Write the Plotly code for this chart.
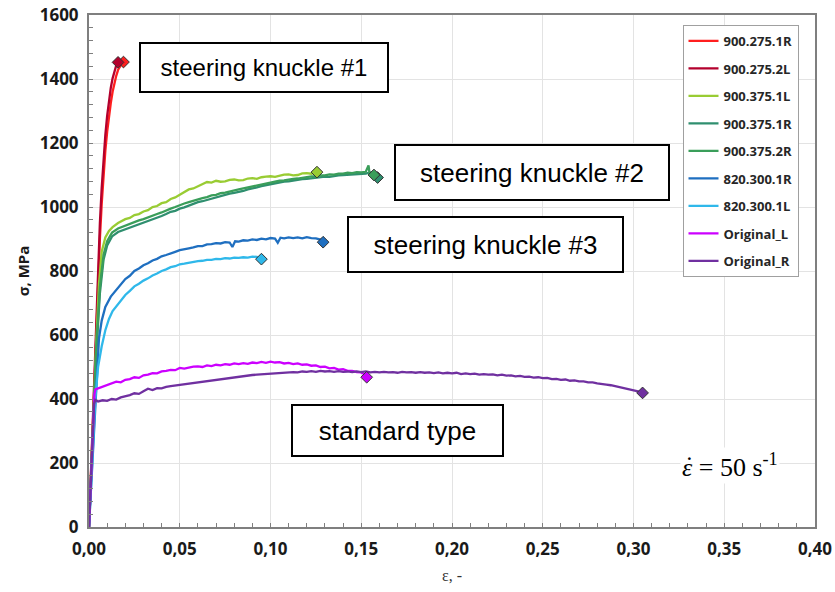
import plotly.graph_objects as go

# ---------------- data ----------------
series_names = ["900.275.1R", "900.275.2L", "900.375.1L", "900.375.1R", "900.375.2R",
                "820.300.1R", "820.300.1L", "Original_L", "Original_R"]
series_colors = ["#ff1f1f", "#b3002d", "#99cc33", "#2f8f6f", "#3a9e5a",
                 "#1f6fc0", "#2fb8ea", "#cc00ff", "#7030a0"]

r_900_275_1R = [(0, 0), (0.001, 150), (0.002, 310), (0.003, 470), (0.004, 640), (0.005, 790),
                (0.006, 900), (0.007, 1010), (0.008, 1100), (0.009, 1175), (0.010, 1235),
                (0.011, 1285), (0.012, 1325), (0.013, 1360), (0.014, 1388), (0.015, 1410),
                (0.016, 1428), (0.017, 1440), (0.018, 1448), (0.019, 1453)]

r_900_275_2L = [(0, 0), (0.001, 155), (0.002, 320), (0.003, 490), (0.004, 670), (0.005, 830),
                (0.006, 950), (0.007, 1060), (0.008, 1150), (0.009, 1225), (0.010, 1285),
                (0.011, 1335), (0.012, 1372), (0.013, 1402), (0.014, 1425), (0.015, 1442),
                (0.016, 1452)]

r_900_375_1L = [(0, 0), (0.002, 300), (0.004, 580), (0.0055, 760), (0.007, 860), (0.009, 905),
                (0.011, 925), (0.013, 937), (0.016, 950), (0.02, 962), (0.0225, 966), (0.025, 975),
                (0.0275, 978), (0.03, 986), (0.0325, 990), (0.035, 1000), (0.0375, 1003),
                (0.04, 1012), (0.0425, 1015), (0.045, 1025), (0.0475, 1030), (0.05, 1038),
                (0.0525, 1046), (0.055, 1055), (0.0575, 1058), (0.06, 1065), (0.0625, 1072),
                (0.065, 1078), (0.0675, 1076), (0.07, 1082), (0.0725, 1079), (0.075, 1080),
                (0.0775, 1085), (0.08, 1086), (0.0825, 1083), (0.085, 1084), (0.0875, 1089),
                (0.09, 1090), (0.0925, 1088), (0.095, 1093), (0.0975, 1095), (0.1, 1096),
                (0.1025, 1094), (0.105, 1098), (0.1075, 1101), (0.11, 1102), (0.1125, 1099),
                (0.115, 1100), (0.1175, 1105), (0.12, 1106), (0.1225, 1104), (0.1256, 1109)]

r_900_375_1R = [(0, 0), (0.002, 290), (0.004, 540), (0.006, 730), (0.008, 835), (0.010, 880),
                (0.0127, 908), (0.016, 922), (0.02, 930), (0.0225, 936), (0.025, 942),
                (0.0275, 945), (0.03, 952), (0.0325, 955), (0.035, 960), (0.0375, 966),
                (0.04, 972), (0.0425, 978), (0.045, 985), (0.0475, 988), (0.05, 995),
                (0.0525, 999), (0.055, 1005), (0.0575, 1009), (0.06, 1015), (0.0625, 1018),
                (0.065, 1022), (0.0675, 1027), (0.07, 1030), (0.0725, 1035), (0.075, 1037),
                (0.0775, 1042), (0.08, 1044), (0.0825, 1046), (0.085, 1050), (0.0875, 1055),
                (0.09, 1057), (0.0925, 1061), (0.095, 1065), (0.0975, 1068), (0.1, 1072),
                (0.1025, 1073), (0.105, 1076), (0.1075, 1079), (0.11, 1080), (0.1125, 1083),
                (0.115, 1084), (0.1175, 1087), (0.12, 1088), (0.1225, 1090), (0.125, 1092),
                (0.1275, 1092), (0.13, 1095), (0.1325, 1094), (0.135, 1097), (0.1375, 1099),
                (0.14, 1100), (0.1425, 1101), (0.145, 1103), (0.1475, 1102), (0.15, 1105),
                (0.1525, 1104), (0.155, 1108), (0.157, 1106), (0.159, 1092)]

r_900_375_2R = [(0, 0), (0.002, 300), (0.004, 560), (0.006, 750), (0.008, 850), (0.010, 893),
                (0.0127, 920), (0.016, 933), (0.02, 942), (0.0225, 948), (0.025, 953),
                (0.0275, 958), (0.03, 962), (0.0325, 968), (0.035, 972), (0.0375, 978),
                (0.04, 983), (0.0425, 990), (0.045, 995), (0.0475, 1000), (0.05, 1006),
                (0.0525, 1011), (0.055, 1015), (0.0575, 1020), (0.06, 1023), (0.0625, 1028),
                (0.065, 1031), (0.0675, 1036), (0.07, 1038), (0.0725, 1043), (0.075, 1045),
                (0.0775, 1049), (0.08, 1052), (0.0825, 1055), (0.085, 1058), (0.0875, 1061),
                (0.09, 1064), (0.0925, 1066), (0.095, 1070), (0.0975, 1073), (0.1, 1077),
                (0.1025, 1079), (0.105, 1082), (0.1075, 1083), (0.11, 1086), (0.1125, 1088),
                (0.115, 1089), (0.1175, 1092), (0.12, 1093), (0.1225, 1096), (0.125, 1096),
                (0.1275, 1099), (0.13, 1099), (0.1325, 1102), (0.135, 1101), (0.1375, 1104),
                (0.14, 1104), (0.1425, 1107), (0.145, 1106), (0.1475, 1109), (0.15, 1108),
                (0.1525, 1110), (0.154, 1130), (0.1545, 1108), (0.157, 1100)]

r_820_300_1R = [(0, 0), (0.002, 220), (0.0035, 400), (0.0045, 500), (0.0055, 590), (0.007, 645),
                (0.009, 688), (0.012, 720), (0.016, 748), (0.02, 775), (0.0225, 785), (0.025, 800),
                (0.0275, 808), (0.03, 818), (0.0325, 824), (0.035, 833), (0.0375, 838),
                (0.04, 846), (0.0425, 850), (0.045, 856), (0.0475, 860), (0.05, 865),
                (0.0525, 867), (0.055, 871), (0.0575, 874), (0.06, 878), (0.0625, 878),
                (0.065, 883), (0.0675, 884), (0.07, 887), (0.0725, 886), (0.075, 890),
                (0.0775, 889), (0.079, 875), (0.0805, 893), (0.0825, 892), (0.085, 896),
                (0.0875, 895), (0.09, 899), (0.0925, 897), (0.095, 901), (0.0975, 899),
                (0.1, 903), (0.1025, 901), (0.104, 888), (0.1055, 904), (0.1075, 902),
                (0.11, 905), (0.1125, 903), (0.115, 905), (0.1175, 902), (0.12, 906),
                (0.1225, 903), (0.125, 902), (0.1275, 898), (0.129, 890)]

r_820_300_1L = [(0, 0), (0.002, 220), (0.0035, 400), (0.005, 500), (0.007, 565), (0.009, 615),
                (0.011, 650), (0.013, 675), (0.016, 697), (0.02, 725), (0.0225, 738), (0.025, 752),
                (0.0275, 760), (0.03, 770), (0.0325, 777), (0.035, 786), (0.0375, 792),
                (0.04, 800), (0.0425, 805), (0.045, 812), (0.0475, 815), (0.05, 821),
                (0.0525, 823), (0.055, 826), (0.0575, 829), (0.06, 831), (0.0625, 832),
                (0.065, 835), (0.0675, 835), (0.07, 838), (0.0725, 837), (0.075, 840),
                (0.0775, 839), (0.08, 842), (0.0825, 841), (0.085, 843), (0.0875, 842),
                (0.09, 845), (0.0925, 844), (0.095, 837)]

r_original_L = [(0, 0), (0.001, 140), (0.002, 290), (0.0025, 360), (0.003, 415), (0.0035, 430),
                (0.005, 433), (0.0075, 440), (0.01, 445), (0.0125, 448), (0.015, 454),
                (0.0175, 452), (0.02, 460), (0.0225, 462), (0.025, 468), (0.0275, 466),
                (0.03, 474), (0.0325, 476), (0.035, 481), (0.0375, 480), (0.04, 486),
                (0.0425, 488), (0.045, 491), (0.0475, 490), (0.05, 497), (0.0525, 495),
                (0.055, 499), (0.0575, 501), (0.06, 502), (0.0625, 500), (0.065, 505),
                (0.0675, 503), (0.07, 507), (0.0725, 505), (0.075, 509), (0.0775, 507),
                (0.08, 511), (0.0825, 509), (0.085, 512), (0.0875, 510), (0.09, 514),
                (0.0925, 512), (0.095, 516), (0.0975, 513), (0.1, 517), (0.1025, 514),
                (0.105, 515), (0.1075, 511), (0.11, 513), (0.1125, 509), (0.115, 511),
                (0.1175, 507), (0.12, 508), (0.1225, 504), (0.125, 505), (0.1275, 500),
                (0.13, 501), (0.1325, 496), (0.135, 497), (0.1375, 492), (0.14, 493),
                (0.1425, 488), (0.145, 488), (0.1475, 484), (0.15, 483), (0.1515, 478),
                (0.153, 468)]

r_original_R = [(0, 0), (0.001, 140), (0.002, 290), (0.0028, 385), (0.0035, 397), (0.005, 392),
                (0.0075, 396), (0.01, 394), (0.0125, 400), (0.015, 398), (0.0175, 405),
                (0.02, 408), (0.0225, 412), (0.025, 418), (0.0275, 416), (0.03, 424),
                (0.0325, 432), (0.035, 428), (0.0375, 434), (0.04, 433), (0.0425, 438),
                (0.045, 440), (0.0475, 442), (0.05, 444), (0.0525, 447), (0.055, 449),
                (0.0575, 451), (0.06, 453), (0.0625, 455), (0.065, 457), (0.0675, 459),
                (0.07, 461), (0.0725, 463), (0.075, 465), (0.0775, 467), (0.08, 469),
                (0.0825, 470), (0.085, 472), (0.0875, 474), (0.09, 475), (0.0925, 476),
                (0.095, 477), (0.0975, 478), (0.1, 479), (0.1025, 481), (0.105, 480),
                (0.1075, 483), (0.11, 482), (0.1125, 484), (0.115, 483), (0.1175, 486),
                (0.12, 485), (0.1225, 487), (0.125, 485), (0.1275, 488), (0.13, 486),
                (0.1325, 487), (0.135, 485), (0.1375, 487), (0.14, 485), (0.1425, 486),
                (0.145, 484), (0.1475, 486), (0.15, 484), (0.1525, 486), (0.155, 483),
                (0.1575, 485), (0.16, 483), (0.1625, 485), (0.165, 483), (0.1675, 484),
                (0.17, 482), (0.1725, 485), (0.175, 483), (0.1775, 484), (0.18, 482),
                (0.1825, 484), (0.185, 482), (0.1875, 483), (0.19, 481), (0.1925, 483),
                (0.195, 480), (0.1975, 482), (0.2, 480), (0.2025, 482), (0.205, 478),
                (0.2075, 480), (0.21, 478), (0.2125, 479), (0.215, 476), (0.2175, 478),
                (0.22, 476), (0.2225, 477), (0.225, 474), (0.2275, 476), (0.23, 473),
                (0.2325, 474), (0.235, 471), (0.2375, 472), (0.24, 469), (0.2425, 470),
                (0.245, 467), (0.2475, 468), (0.25, 465), (0.2525, 466), (0.255, 462),
                (0.2575, 463), (0.26, 460), (0.2625, 461), (0.265, 457), (0.2675, 458),
                (0.27, 455), (0.2725, 455), (0.275, 452), (0.2775, 452), (0.28, 449),
                (0.2825, 448), (0.285, 445), (0.2875, 443), (0.29, 440), (0.2925, 437),
                (0.295, 434), (0.2975, 431), (0.3, 428), (0.3025, 424), (0.305, 419)]

series_data = [r_900_275_1R, r_900_275_2L, r_900_375_1L, r_900_375_1R, r_900_375_2R,
               r_820_300_1R, r_820_300_1L, r_original_L, r_original_R]

x_ticks = [0, 0.05, 0.10, 0.15, 0.20, 0.25, 0.30, 0.35, 0.40]
y_ticks = [0, 200, 400, 600, 800, 1000, 1200, 1400, 1600]

box_labels = ["steering knuckle #1", "steering knuckle #2", "steering knuckle #3", "standard type"]

# ---------------- figure ----------------
fig = go.Figure()

for name, color, pts in zip(series_names, series_colors, series_data):
    xs = [p[0] for p in pts]
    ys = [p[1] for p in pts]
    fig.add_trace(go.Scatter(x=xs, y=ys, mode="lines", name=name, legendgroup=name,
                             line=dict(color=color, width=2.3)))

for name, color, pts in zip(series_names, series_colors, series_data):
    fig.add_trace(go.Scatter(x=[pts[-1][0]], y=[pts[-1][1]], mode="markers",
                             legendgroup=name, showlegend=False, hoverinfo="skip",
                             marker=dict(symbol="diamond", size=9, color=color,
                                         line=dict(color="#333333", width=1))))

tick_font = dict(family="Open Sans", size=17, color="#1a1a1a", weight="bold")
frame_color = "#7f7f7f"

fig.update_layout(
    width=835, height=592,
    margin=dict(l=89, r=20, t=15, b=65, autoexpand=False),
    paper_bgcolor="white", plot_bgcolor="white",
    separators=",.",
    showlegend=True,
    xaxis=dict(range=[0, 0.4], tickvals=x_ticks, tickformat=".2f", automargin=False,
               showgrid=True, gridcolor="#e3e3e3", gridwidth=1, zeroline=False,
               showline=True, linecolor=frame_color, linewidth=2, mirror=True,
               ticks="inside", ticklen=4, tickcolor=frame_color, ticklabelstandoff=6,
               minor=dict(dtick=0.01, tick0=0, ticks="inside", ticklen=4,
                          tickcolor=frame_color, showgrid=False),
               tickfont=tick_font,
               title=dict(text="ε, -", font=dict(family="Liberation Serif", size=16, color="#333333"),
                          standoff=10)),
    yaxis=dict(range=[0, 1600], tickvals=y_ticks, automargin=False,
               showgrid=True, gridcolor="#e3e3e3", gridwidth=1, zeroline=False,
               showline=True, linecolor=frame_color, linewidth=2, mirror=True,
               ticks="inside", ticklen=4, tickcolor=frame_color, ticklabelstandoff=5,
               minor=dict(dtick=40, tick0=0, ticks="inside", ticklen=4,
                          tickcolor=frame_color, showgrid=False),
               tickfont=tick_font,
               title=dict(text="σ, MPa", font=dict(family="Open Sans", size=15, color="#1a1a1a", weight="bold"),
                          standoff=6)),
    legend=dict(x=0.8175, y=0.9805, xanchor="left", yanchor="top",
                bgcolor="white", bordercolor="#a0a0a0", borderwidth=1,
                font=dict(family="Open Sans", size=13, color="#262626", weight="bold"),
                tracegroupgap=7.6, itemwidth=30),
)

box_specs = [  # (paper x, paper y, width, height, font size)
    (0.2405, 0.8965, 246, 47, 24),
    (0.6099, 0.6924, 272, 53, 26),
    (0.5455, 0.5518, 273, 53, 26),
    (0.4252, 0.1885, 209, 49, 26),
]
for text, (px, py, w, h, fs) in zip(box_labels, box_specs):
    fig.add_annotation(xref="paper", yref="paper", x=px, y=py, text=text, showarrow=False,
                       xanchor="center", yanchor="middle", width=w, height=h, align="center",
                       valign="middle", bgcolor="white", bordercolor="black", borderwidth=2,
                       borderpad=0, font=dict(family="Liberation Sans", size=fs, color="black"))

# strain-rate label: ε with a dot above, "= 50 s^-1"
fig.add_annotation(xref="paper", yref="paper", x=0.8140, y=0.121, showarrow=False,
                   xanchor="left", yanchor="middle",
                   text="<i>ε</i> = 50 s<sup>-1</sup>",
                   font=dict(family="Liberation Serif", size=26, color="black"),
                   bgcolor="white")
fig.add_annotation(xref="paper", yref="paper", x=0.8268, y=0.121, showarrow=False,
                   xanchor="center", yanchor="middle", text="\u02d9",
                   font=dict(family="Liberation Serif", size=26, color="black"))

fig.write_html("out.html")
